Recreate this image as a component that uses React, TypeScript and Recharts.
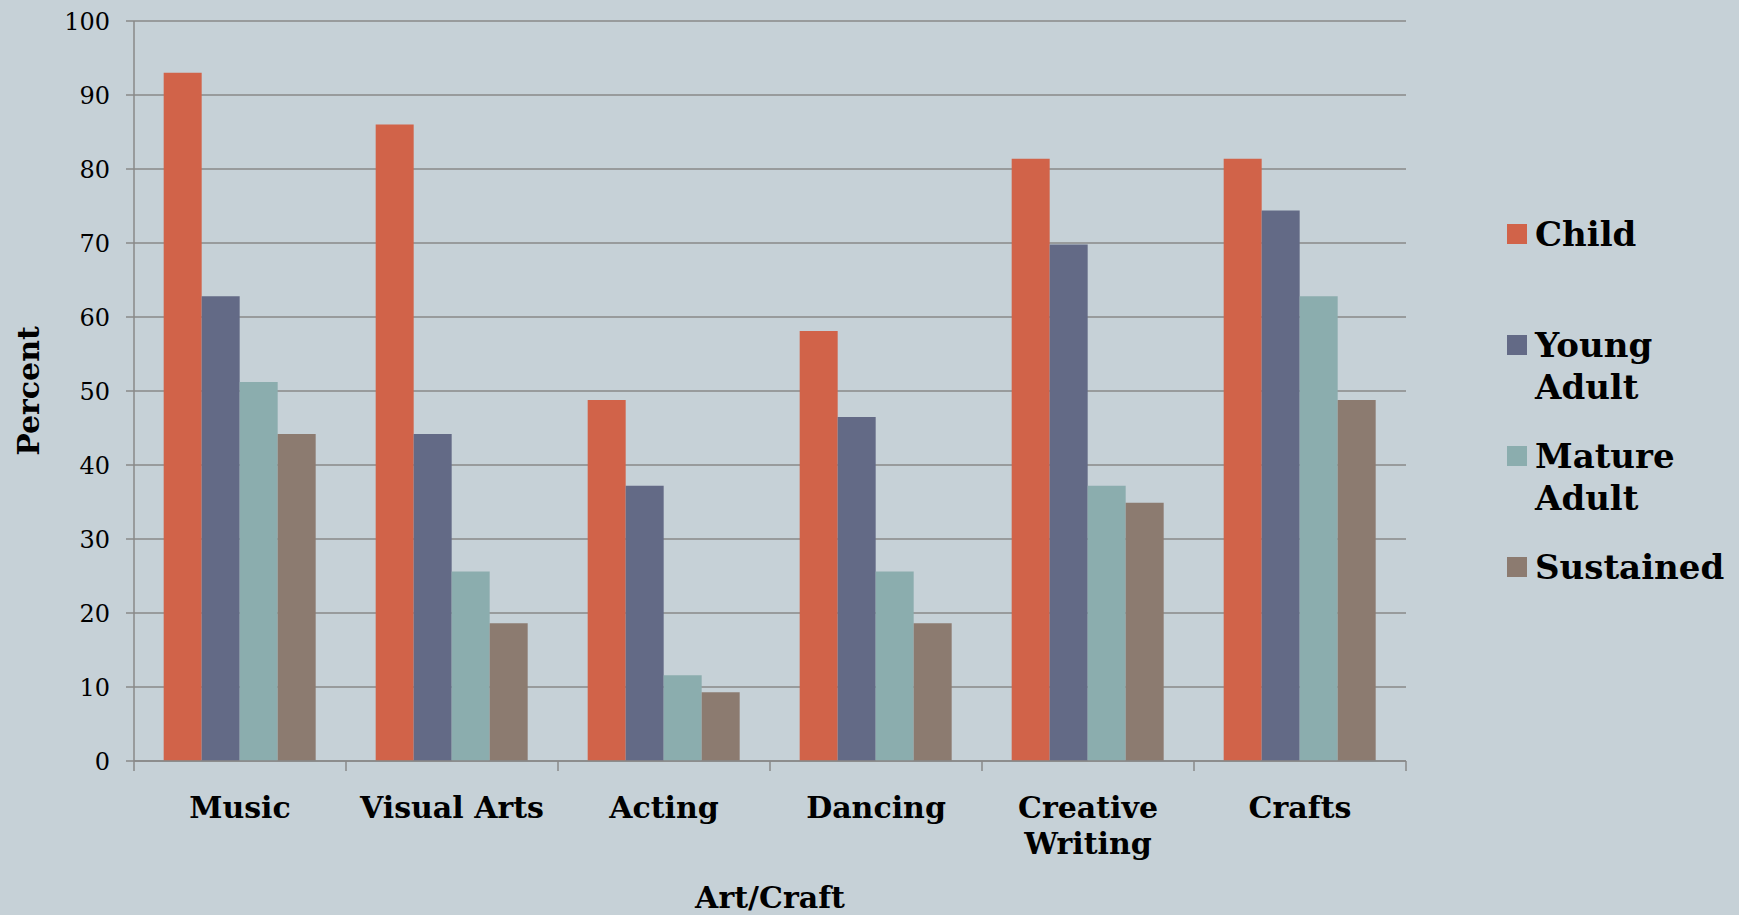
import React from 'react';
import { BarChart, Bar, XAxis, YAxis, CartesianGrid, Legend } from 'recharts';

const categories = ['Music', 'Visual Arts', 'Acting', 'Dancing', 'Creative Writing', 'Crafts'];
const child = [93.0, 86.0, 48.8, 58.1, 81.4, 81.4];
const youngAdult = [62.8, 44.2, 37.2, 46.5, 69.8, 74.4];
const matureAdult = [51.2, 25.6, 11.6, 25.6, 37.2, 62.8];
const sustained = [44.2, 18.6, 9.3, 18.6, 34.9, 48.8];
const yTicks = [0, 10, 20, 30, 40, 50, 60, 70, 80, 90, 100];
const edgeTicks = [0, 1, 2, 3, 4, 5, 6];

const seriesNames = ['Child', 'Young Adult', 'Mature Adult', 'Sustained'];
const seriesColors = ['#D16349', '#636A86', '#8BADAE', '#8C7B70'];

const data = categories.map((c, i) => ({
  category: c,
  child: child[i],
  youngAdult: youngAdult[i],
  matureAdult: matureAdult[i],
  sustained: sustained[i],
}));
const keys = ['child', 'youngAdult', 'matureAdult', 'sustained'];

const FONT = '"DejaVu Serif", serif';
const GRID = '#888888';
const BG = '#C6D1D7';

const CategoryTick = (props: any) => {
  const { x, y, payload } = props;
  const label: string = String(payload.value);
  const lines = label.length > 12 ? label.split(' ') : [label];
  return (
    <text x={x} y={y} textAnchor="middle" fontFamily={FONT} fontWeight="bold" fontSize={30} fill="#000">
      {lines.map((l, i) => (
        <tspan key={i} x={x} dy={i === 0 ? 45 : 36}>{l}</tspan>
      ))}
    </text>
  );
};

const EmptyTick = () => <g />;

const LegendContent = (props: any) => {
  const payload = [...(props.payload || [])].sort(
    (a: any, b: any) => seriesNames.indexOf(a.value) - seriesNames.indexOf(b.value)
  );
  return (
    <div style={{ fontFamily: FONT, fontWeight: 'bold', fontSize: 34, color: '#000' }}>
      {payload.map((p: any, i: number) => (
        <div key={i} style={{ height: 111, display: 'flex', alignItems: 'flex-start' }}>
          <div style={{ width: 20, height: 20, background: p.color, marginTop: 11, marginRight: 8, flex: '0 0 20px' }} />
          <div style={{ width: 200, lineHeight: '42px' }}>{p.value}</div>
        </div>
      ))}
    </div>
  );
};

export default function App() {
  return (
    <div style={{ position: 'absolute', left: 0, top: 0, width: 1739, height: 915, background: BG }}>
      <BarChart
        width={1739}
        height={915}
        data={data}
        margin={{ top: 21, right: 333, bottom: 0, left: 0 }}
        barCategoryGap="14%"
        barGap={0}
      >
        <CartesianGrid vertical={false} stroke={GRID} strokeWidth={1.5} />
        <XAxis
          xAxisId="b_cat"
          dataKey="category"
          height={142}
          axisLine={false}
          tickLine={false}
          tickSize={0}
          tickMargin={0}
          interval={0}
          tick={<CategoryTick />}
          label={(p: any) => {
            const vb = p.viewBox || {};
            return (
              <text
                x={vb.x + vb.width / 2}
                y={vb.y + vb.height - 7}
                textAnchor="middle"
                fontFamily={FONT}
                fontWeight="bold"
                fontSize={30}
                fill="#000"
              >
                Art/Craft
              </text>
            );
          }}
        />
        <XAxis
          xAxisId="a_edges"
          type="number"
          dataKey={() => 0}
          domain={[0, 6]}
          ticks={edgeTicks}
          interval={0}
          allowDataOverflow
          height={12}
          tick={<EmptyTick />}
          tickSize={10}
          axisLine={{ stroke: GRID, strokeWidth: 1.5 }}
          tickLine={{ stroke: GRID, strokeWidth: 1.5 }}
        />
        <YAxis
          width={134}
          domain={[0, 100]}
          ticks={yTicks}
          interval={0}
          tickSize={8}
          tickMargin={16}
          axisLine={{ stroke: GRID, strokeWidth: 1.5 }}
          tickLine={{ stroke: GRID, strokeWidth: 1.5 }}
          tick={{ fill: '#000', fontSize: 24, fontFamily: FONT }}
          label={(p: any) => {
            const vb = p.viewBox || {};
            const cx = 28;
            const cy = vb.y + vb.height / 2;
            return (
              <text
                x={cx}
                y={cy}
                transform={`rotate(-90, ${cx}, ${cy})`}
                textAnchor="middle"
                dominantBaseline="central"
                fontFamily={FONT}
                fontWeight="bold"
                fontSize={30}
                fill="#000"
              >
                Percent
              </text>
            );
          }}
        />
        <Legend
          layout="vertical"
          align="center"
          verticalAlign="middle"
          itemSorter={(item: any) => seriesNames.indexOf(item.value)}
          content={<LegendContent />}
          wrapperStyle={{ position: 'absolute', left: 1507, top: 213, width: 232, height: 444 }}
        />
        {keys.map((k, i) => (
          <Bar
            key={k}
            xAxisId="b_cat"
            dataKey={k}
            name={seriesNames[i]}
            fill={seriesColors[i]}
            isAnimationActive={false}
          />
        ))}
      </BarChart>
    </div>
  );
}
